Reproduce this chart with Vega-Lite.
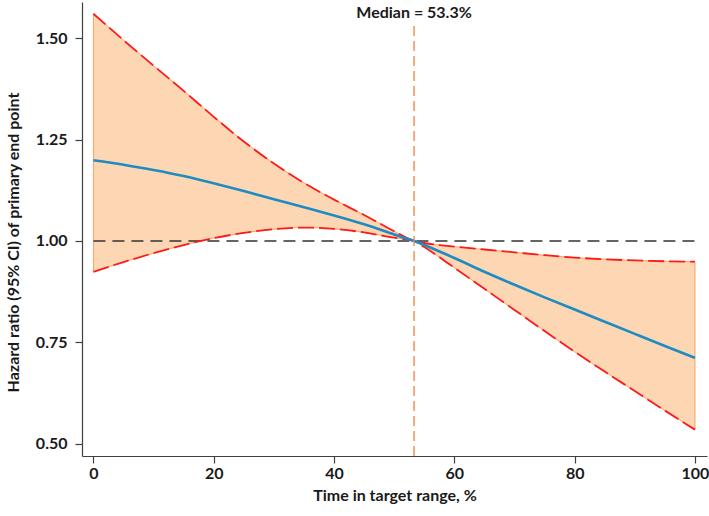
{
  "$schema": "https://vega.github.io/schema/vega-lite/v6.json",
  "width": 625,
  "height": 454,
  "autosize": {"type": "none"},
  "padding": {"left": 82, "top": 2, "right": 2, "bottom": 60},
  "background": "white",
  "config": {
    "view": {"stroke": null},
    "font": "Lato",
    "axis": {
      "grid": false,
      "labelFont": "Lato",
      "labelFontWeight": "bold",
      "labelFontSize": 16,
      "labelColor": "#1a1a1a",
      "titleFont": "Lato",
      "titleFontWeight": "bold",
      "titleFontSize": 16,
      "titleColor": "#1a1a1a",
      "domainColor": "#404040",
      "tickColor": "#404040",
      "tickSize": 7,
      "domainWidth": 1.2,
      "tickWidth": 1.2
    }
  },
  "datasets": {
    "curve": [
      {"x": 0, "hr": 1.199, "lo": 0.924, "hi": 1.560},
      {"x": 5, "hr": 1.188, "lo": 0.948, "hi": 1.495},
      {"x": 10, "hr": 1.175, "lo": 0.970, "hi": 1.432},
      {"x": 15, "hr": 1.160, "lo": 0.990, "hi": 1.370},
      {"x": 20, "hr": 1.142, "lo": 1.007, "hi": 1.306},
      {"x": 25, "hr": 1.123, "lo": 1.020, "hi": 1.245},
      {"x": 30, "hr": 1.103, "lo": 1.029, "hi": 1.191},
      {"x": 35, "hr": 1.083, "lo": 1.033, "hi": 1.143},
      {"x": 40, "hr": 1.063, "lo": 1.030, "hi": 1.102},
      {"x": 45, "hr": 1.041, "lo": 1.021, "hi": 1.064},
      {"x": 50, "hr": 1.016, "lo": 1.008, "hi": 1.024},
      {"x": 53.3, "hr": 1.000, "lo": 1.000, "hi": 1.000},
      {"x": 55, "hr": 0.990, "lo": 0.985, "hi": 0.995},
      {"x": 60, "hr": 0.958, "lo": 0.934, "hi": 0.986},
      {"x": 65, "hr": 0.924, "lo": 0.882, "hi": 0.979},
      {"x": 70, "hr": 0.892, "lo": 0.830, "hi": 0.972},
      {"x": 75, "hr": 0.861, "lo": 0.778, "hi": 0.965},
      {"x": 80, "hr": 0.831, "lo": 0.727, "hi": 0.959},
      {"x": 85, "hr": 0.801, "lo": 0.678, "hi": 0.955},
      {"x": 90, "hr": 0.771, "lo": 0.630, "hi": 0.952},
      {"x": 95, "hr": 0.741, "lo": 0.582, "hi": 0.950},
      {"x": 100, "hr": 0.712, "lo": 0.535, "hi": 0.949}
    ],
    "ref": [{"x": 0, "x2": 100, "y": 1.0}],
    "median": [{"x": 53.3, "ytop": 1.53, "ybot": 0.47, "ylab": 1.561, "label": "Median = 53.3%"}]
  },
  "layer": [
    {
      "data": {"name": "curve"},
      "mark": {"type": "area", "color": "#FDD7B3", "stroke": "#F7A45E", "strokeWidth": 1, "opacity": 1, "interpolate": "monotone"},
      "encoding": {
        "x": {"field": "x", "type": "quantitative", "scale": {"domain": [-1.9, 102], "nice": false, "zero": false},
              "axis": {"values": [0, 20, 40, 60, 80, 100], "title": "Time in target range, %", "titlePadding": 6, "labelPadding": 2}},
        "y": {"field": "lo", "type": "quantitative", "scale": {"domain": [0.47, 1.589], "nice": false, "zero": false},
              "axis": {"values": [0.5, 0.75, 1.0, 1.25, 1.5], "format": ".2f", "title": "Hazard ratio (95% CI) of primary end point", "titlePadding": 14, "labelPadding": 8, "titleY": 240}},
        "y2": {"field": "hi"}
      }
    },
    {
      "data": {"name": "ref"},
      "mark": {"type": "rule", "color": "#333333", "strokeWidth": 1.6, "strokeDash": [12, 7]},
      "encoding": {
        "x": {"field": "x", "type": "quantitative"},
        "x2": {"field": "x2"},
        "y": {"field": "y", "type": "quantitative"}
      }
    },
    {
      "data": {"name": "curve"},
      "mark": {"type": "line", "color": "#FF1A1A", "strokeWidth": 1.8, "strokeDash": [16, 5], "interpolate": "monotone"},
      "encoding": {
        "x": {"field": "x", "type": "quantitative"},
        "y": {"field": "hi", "type": "quantitative"}
      }
    },
    {
      "data": {"name": "curve"},
      "mark": {"type": "line", "color": "#FF1A1A", "strokeWidth": 1.8, "strokeDash": [16, 5], "interpolate": "monotone"},
      "encoding": {
        "x": {"field": "x", "type": "quantitative"},
        "y": {"field": "lo", "type": "quantitative"}
      }
    },
    {
      "data": {"name": "curve"},
      "mark": {"type": "line", "color": "#1E8BC3", "strokeWidth": 2.6, "interpolate": "natural"},
      "encoding": {
        "x": {"field": "x", "type": "quantitative"},
        "y": {"field": "hr", "type": "quantitative"}
      }
    },
    {
      "data": {"name": "median"},
      "mark": {"type": "rule", "color": "#F08A4B", "strokeWidth": 1.4, "strokeDash": [10, 5]},
      "encoding": {
        "x": {"field": "x", "type": "quantitative"},
        "y": {"field": "ybot", "type": "quantitative"},
        "y2": {"field": "ytop"}
      }
    },
    {
      "data": {"name": "median"},
      "mark": {"type": "text", "font": "Lato", "fontWeight": "bold", "fontSize": 16, "color": "#1a1a1a", "align": "center", "baseline": "middle"},
      "encoding": {
        "x": {"field": "x", "type": "quantitative"},
        "y": {"field": "ylab", "type": "quantitative"},
        "text": {"field": "label"}
      }
    }
  ]
}
